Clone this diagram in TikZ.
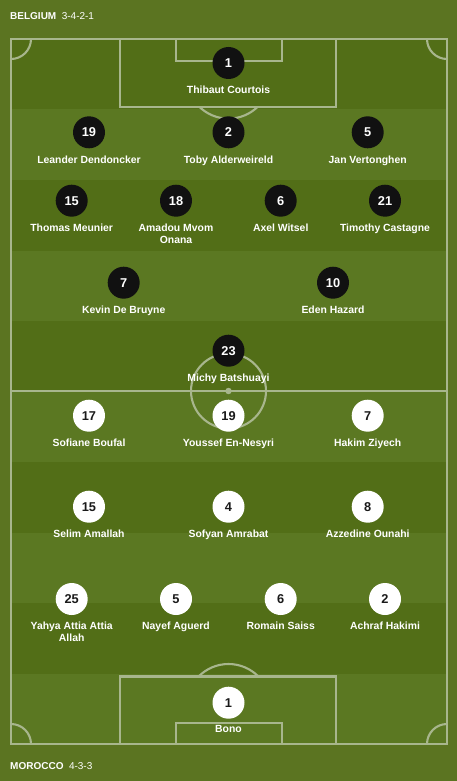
\documentclass[tikz,border=0pt]{standalone}
\usepackage{fontspec}
\setmainfont{Liberation Sans}
\usetikzlibrary{positioning}

\definecolor{outergreen}{HTML}{5B7421}
\definecolor{darkband}{HTML}{526E17}
\definecolor{lightband}{HTML}{5B7822}
\definecolor{linecol}{HTML}{A8B68D}
\definecolor{belcol}{HTML}{111111}
\definecolor{marnum}{HTML}{1A1A1A}

\tikzset{
  pitchline/.style={draw=linecol, line width=2.1pt},
  belplayer/.style={circle, fill=belcol, text=white, minimum size=32pt, inner sep=0pt,
    font=\fontsize{12.8}{14}\selectfont\bfseries},
  marplayer/.style={circle, fill=white, text=marnum, minimum size=32pt, inner sep=0pt,
    font=\fontsize{12.8}{14}\selectfont\bfseries},
  playername/.style={text=white, inner sep=0pt, align=center, anchor=north,
    font=\fontsize{10.4}{12.3}\selectfont\bfseries},
  teamlabel/.style={text=white, inner sep=0pt, anchor=west, font=\fontsize{10}{12}\selectfont},
}

\begin{document}
\begin{tikzpicture}[x=1pt, y=-1pt]

  \useasboundingbox (0,0) rectangle (457,781);
  \fill[outergreen] (0,0) rectangle (457,781);

  % grass stripes
  \fill[darkband] (11,39) rectangle (447,744);
  \fill[lightband] (11,109.5) rectangle (447,180);
  \fill[lightband] (11,250.5) rectangle (447,321);
  \fill[lightband] (11,391.5) rectangle (447,462);
  \fill[lightband] (11,532.5) rectangle (447,603);
  \fill[lightband] (11,673.5) rectangle (447,744);

  % pitch markings
  \draw[pitchline] (11,39) rectangle (447,744);
  \draw[pitchline] (11,391) -- (447,391);
  \draw[pitchline] (228.5,391) circle[radius=37.5];
  \fill[linecol] (228.5,391) circle[radius=3.2];

  \draw[pitchline] (120,39) rectangle (336,107);
  \draw[pitchline] (176,39) rectangle (282,61);
  \draw[pitchline] (120,676.5) rectangle (336,744);
  \draw[pitchline] (176,723) rectangle (282,744);

  % penalty arcs
  \begin{scope}
    \clip (11,107) rectangle (447,391);
    \draw[pitchline] (228.5,76.6) circle[radius=42];
  \end{scope}
  \begin{scope}
    \clip (11,391) rectangle (447,676.5);
    \draw[pitchline] (228.5,706) circle[radius=42];
  \end{scope}

  % corner arcs
  \begin{scope}
    \clip (11,39) rectangle (447,744);
    \draw[pitchline] (11,39) circle[radius=20];
    \draw[pitchline] (447,39) circle[radius=20];
    \draw[pitchline] (11,744) circle[radius=20];
    \draw[pitchline] (447,744) circle[radius=20];
  \end{scope}

  % team headers
  \node[teamlabel] (hdr-bel) at (10,16) {\textbf{BELGIUM}\hspace{5.5pt}3-4-2-1};
  \node[teamlabel] (hdr-mar) at (10,766) {\textbf{MOROCCO}\hspace{5.5pt}4-3-3};

  % belgium
  \node[belplayer] (bel-1) at (228.5,63) {1};
  \node[playername, below=7pt of bel-1] (bel-1-name) {Thibaut Courtois};

  \node[belplayer] (bel-19) at (89,132.3) {19};
  \node[playername, below=7pt of bel-19] (bel-19-name) {Leander Dendoncker};
  \node[belplayer] (bel-2) at (228.5,132.3) {2};
  \node[playername, below=7pt of bel-2] (bel-2-name) {Toby Alderweireld};
  \node[belplayer] (bel-5) at (367.7,132.3) {5};
  \node[playername, below=7pt of bel-5] (bel-5-name) {Jan Vertonghen};

  \node[belplayer] (bel-15) at (71.7,200.7) {15};
  \node[playername, below=7pt of bel-15] (bel-15-name) {Thomas Meunier};
  \node[belplayer] (bel-18) at (176,200.7) {18};
  \node[playername, below=7pt of bel-18] (bel-18-name) {Amadou Mvom\\Onana};
  \node[belplayer] (bel-6) at (280.7,200.7) {6};
  \node[playername, below=7pt of bel-6] (bel-6-name) {Axel Witsel};
  \node[belplayer] (bel-21) at (385,200.7) {21};
  \node[playername, below=7pt of bel-21] (bel-21-name) {Timothy Castagne};

  \node[belplayer] (bel-7) at (123.7,282.7) {7};
  \node[playername, below=7pt of bel-7] (bel-7-name) {Kevin De Bruyne};
  \node[belplayer] (bel-10) at (333,282.7) {10};
  \node[playername, below=7pt of bel-10] (bel-10-name) {Eden Hazard};

  \node[belplayer] (bel-23) at (228.5,350.7) {23};
  \node[playername, below=7pt of bel-23] (bel-23-name) {Michy Batshuayi};

  % morocco
  \node[marplayer] (mar-17) at (89,415.7) {17};
  \node[playername, below=6.5pt of mar-17] (mar-17-name) {Sofiane Boufal};
  \node[marplayer] (mar-19) at (228.5,415.7) {19};
  \node[playername, below=6.5pt of mar-19] (mar-19-name) {Youssef En-Nesyri};
  \node[marplayer] (mar-7) at (367.7,415.7) {7};
  \node[playername, below=6.5pt of mar-7] (mar-7-name) {Hakim Ziyech};

  \node[marplayer] (mar-15) at (89,506.7) {15};
  \node[playername, below=6.5pt of mar-15] (mar-15-name) {Selim Amallah};
  \node[marplayer] (mar-4) at (228.5,506.7) {4};
  \node[playername, below=6.5pt of mar-4] (mar-4-name) {Sofyan Amrabat};
  \node[marplayer] (mar-8) at (367.7,506.7) {8};
  \node[playername, below=6.5pt of mar-8] (mar-8-name) {Azzedine Ounahi};

  \node[marplayer] (mar-25) at (71.7,599) {25};
  \node[playername, below=6.5pt of mar-25] (mar-25-name) {Yahya Attia Attia\\Allah};
  \node[marplayer] (mar-5) at (176,599) {5};
  \node[playername, below=6.5pt of mar-5] (mar-5-name) {Nayef Aguerd};
  \node[marplayer] (mar-6) at (280.7,599) {6};
  \node[playername, below=6.5pt of mar-6] (mar-6-name) {Romain Saiss};
  \node[marplayer] (mar-2) at (385,599) {2};
  \node[playername, below=6.5pt of mar-2] (mar-2-name) {Achraf Hakimi};

  \node[marplayer] (mar-1) at (228.5,702.7) {1};
  \node[playername, below=6.5pt of mar-1] (mar-1-name) {Bono};

\end{tikzpicture}
\end{document}
